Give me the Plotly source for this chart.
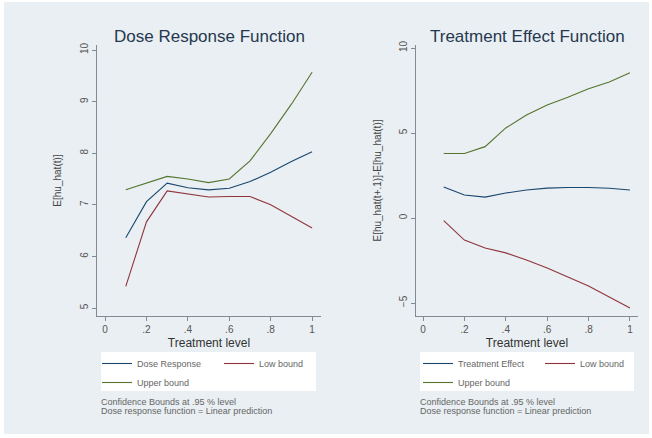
import plotly.graph_objects as go

# ---- data ----
t = [0.1, 0.2, 0.3, 0.4, 0.5, 0.6, 0.7, 0.8, 0.9, 1.0]

dose_response = [6.36, 7.06, 7.42, 7.33, 7.29, 7.32, 7.45, 7.63, 7.84, 8.03]
dose_low = [5.42, 6.67, 7.27, 7.21, 7.15, 7.16, 7.16, 7.00, 6.78, 6.55]
dose_up = [7.29, 7.42, 7.55, 7.50, 7.43, 7.50, 7.85, 8.38, 8.95, 9.57]

te = [1.82, 1.35, 1.23, 1.47, 1.65, 1.76, 1.80, 1.80, 1.75, 1.65]
te_low = [-0.15, -1.30, -1.76, -2.05, -2.47, -2.94, -3.47, -4.00, -4.65, -5.30]
te_up = [3.80, 3.80, 4.20, 5.30, 6.06, 6.65, 7.10, 7.60, 8.00, 8.55]

x_ticks = [0, 0.2, 0.4, 0.6, 0.8, 1]
x_ticktext = ["0", ".2", ".4", ".6", ".8", "1"]
y1_ticks = [5, 6, 7, 8, 9, 10]
y2_ticks = [-5, 0, 5, 10]

W, H = 652, 438
NAVY = "#1a476f"
MAROON = "#90353b"
GREEN = "#55752f"
BG = "#e9eff2"
FONT = "Liberation Sans, Arial, sans-serif"

fig = go.Figure()

def add(x, y, name, color, xa, ya, legend, group):
    fig.add_trace(go.Scatter(x=x, y=y, name=name, mode="lines",
                             line=dict(color=color, width=1.1),
                             xaxis=xa, yaxis=ya, legend=legend,
                             legendgroup=group))

add(t, dose_response, "Dose Response", NAVY, "x", "y", "legend", "a")
add(t, dose_up, "Upper bound", GREEN, "x", "y", "legend", "a")
add(t, dose_low, "Low bound", MAROON, "x", "y", "legend", "b")

add(t, te, "Treatment Effect", NAVY, "x2", "y2", "legend2", "c")
add(t, te_up, "Upper bound", GREEN, "x2", "y2", "legend2", "c")
add(t, te_low, "Low bound", MAROON, "x2", "y2", "legend2", "d")

def px(v):
    return v / W

def py(v):
    return 1 - v / H

axis_common = dict(showline=True, linecolor="#7f8a92", linewidth=1,
                   ticks="outside", ticklen=4, tickcolor="#7f8a92",
                   tickfont=dict(size=10, color="#555", family=FONT),
                   zeroline=False, mirror=False)

ydom = [py(316), py(45)]

legend_common = dict(orientation="h", traceorder="grouped",
                     xanchor="left", yanchor="top", bgcolor="rgba(0,0,0,0)",
                     font=dict(size=9, color="#666", family=FONT),
                     entrywidth=77, tracegroupgap=0, itemwidth=30)

fig.update_layout(
    width=W, height=H,
    margin=dict(l=0, r=0, t=0, b=0, autoexpand=False),
    paper_bgcolor="white",
    plot_bgcolor="white",
    font=dict(family=FONT),
    xaxis=dict(domain=[px(97), px(321)], range=[-0.039, 1.043],
               tickvals=x_ticks, ticktext=x_ticktext, showgrid=False,
               title=dict(text="Treatment level", standoff=4,
                          font=dict(size=12, color="#333", family=FONT)),
               **axis_common),
    yaxis=dict(domain=ydom, range=[4.845, 10.097], tickvals=y1_ticks,
               tickangle=-90, showgrid=True, gridcolor="#edf0f2", gridwidth=1,
               title=dict(text="E[hu_hat(t)]", standoff=15,
                          font=dict(size=10, color="#444", family=FONT)),
               **axis_common),
    xaxis2=dict(domain=[px(416), px(638)], range=[-0.034, 1.039],
                tickvals=x_ticks, ticktext=x_ticktext, showgrid=False,
                anchor="y2",
                title=dict(text="Treatment level", standoff=4,
                           font=dict(size=12, color="#333", family=FONT)),
                **axis_common),
    yaxis2=dict(domain=ydom, range=[-5.765, 10.18], tickvals=y2_ticks,
                tickangle=-90, showgrid=True, gridcolor="#edf0f2", gridwidth=1,
                anchor="x2",
                title=dict(text="E[hu_hat(t+.1)]-E[hu_hat(t)]", standoff=14,
                           font=dict(size=10, color="#444", family=FONT)),
                **axis_common),
    legend=dict(x=px(97), y=py(349), **legend_common),
    legend2=dict(x=px(418), y=py(349), **legend_common),
    shapes=[
        dict(type="rect", xref="paper", yref="paper", x0=px(4), x1=px(649),
             y0=py(434), y1=py(2), fillcolor=BG, line=dict(width=0), layer="below"),
        dict(type="rect", xref="paper", yref="paper", x0=px(101), x1=px(316),
             y0=py(391), y1=py(352), fillcolor="white", line=dict(width=0), layer="below"),
        dict(type="rect", xref="paper", yref="paper", x0=px(420), x1=px(634),
             y0=py(391), y1=py(352), fillcolor="white", line=dict(width=0), layer="below"),
    ],
    showlegend=True,
)

notes = ["Confidence Bounds at .95 % level",
         "Dose response function = Linear prediction"]
titles = ["Dose Response Function", "Treatment Effect Function"]

for cx, title in zip([209, 527], titles):
    fig.add_annotation(text=title, xref="paper", yref="paper", x=px(cx), y=py(36),
                       xanchor="center", yanchor="middle", showarrow=False,
                       font=dict(size=17, color="#263850", family=FONT))

for lx in [99, 418]:
    for i, note in enumerate(notes):
        fig.add_annotation(text=note, xref="paper", yref="paper", x=px(lx),
                           y=py(402 + i * 9), xanchor="left", yanchor="middle",
                           showarrow=False,
                           font=dict(size=9, color="#666", family=FONT))

fig.write_html("out.html",
               config={"displayModeBar": False},
               post_script="document.body.style.margin='0';document.body.style.overflow='hidden';")
